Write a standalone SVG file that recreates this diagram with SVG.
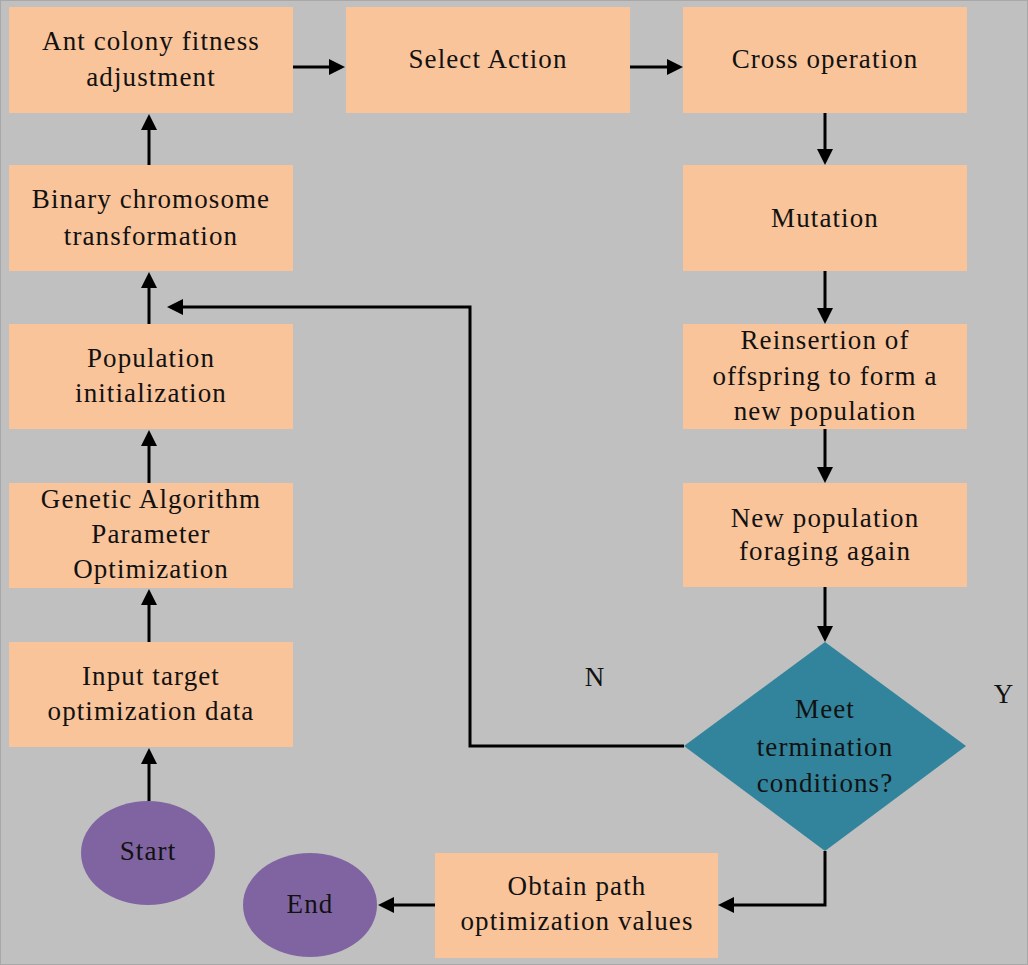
<svg xmlns="http://www.w3.org/2000/svg" width="1028" height="965" viewBox="0 0 1028 965">
<style>
.bx{fill:#f9c49a}
.t{font-family:"Liberation Serif","Times New Roman",serif;font-size:27px;letter-spacing:1.1px;fill:#111;text-anchor:middle}
.c{fill:none;stroke:#000;stroke-width:3}
</style>
<defs>
<marker id="ah" viewBox="0 0 16 16" refX="12" refY="8" markerWidth="16" markerHeight="16" markerUnits="userSpaceOnUse" orient="auto">
<path d="M0,0 L16,8 L0,16 z" fill="#000"/>
</marker>
</defs>
<rect x="0.5" y="0.5" width="1027" height="964" fill="#c0c0c0" stroke="#a8a8a8" stroke-width="1"/>

<g id="ant"><rect class="bx" x="9" y="7" width="284" height="106"/>
<text class="t" x="151" y="50">Ant colony fitness</text><text class="t" x="151" y="86">adjustment</text></g>
<g id="select"><rect class="bx" x="346" y="7" width="284" height="106"/>
<text class="t" x="488" y="68">Select Action</text></g>
<g id="cross"><rect class="bx" x="683" y="7" width="284" height="106"/>
<text class="t" x="825" y="68">Cross operation</text></g>
<g id="binary"><rect class="bx" x="9" y="165" width="284" height="106"/>
<text class="t" x="151" y="208">Binary chromosome</text><text class="t" x="151" y="245">transformation</text></g>
<g id="mutation"><rect class="bx" x="683" y="165" width="284" height="106"/>
<text class="t" x="825" y="227">Mutation</text></g>
<g id="popinit"><rect class="bx" x="9" y="324" width="284" height="105"/>
<text class="t" x="151" y="367">Population</text><text class="t" x="151" y="402">initialization</text></g>
<g id="reinsert"><rect class="bx" x="683" y="324" width="284" height="105"/>
<text class="t" x="825" y="349">Reinsertion of</text><text class="t" x="825" y="385">offspring to form a</text><text class="t" x="825" y="420">new population</text></g>
<g id="genetic"><rect class="bx" x="9" y="483" width="284" height="105"/>
<text class="t" x="151" y="508">Genetic Algorithm</text><text class="t" x="151" y="543">Parameter</text><text class="t" x="151" y="578">Optimization</text></g>
<g id="newpop"><rect class="bx" x="683" y="483" width="284" height="104"/>
<text class="t" x="825" y="527">New population</text><text class="t" x="825" y="560">foraging again</text></g>
<g id="input"><rect class="bx" x="9" y="642" width="284" height="105"/>
<text class="t" x="151" y="685">Input target</text><text class="t" x="151" y="720">optimization data</text></g>
<g id="decision"><polygon points="825,642 966,746 825,851 684,746" fill="#31849b"/>
<text class="t" x="825" y="718">Meet</text><text class="t" x="825" y="756">termination</text><text class="t" x="825" y="792">conditions?</text></g>
<g id="start"><ellipse cx="148" cy="853" rx="67" ry="52" fill="#8064a2"/>
<text class="t" x="148" y="860">Start</text></g>
<g id="obtain"><rect class="bx" x="435" y="853" width="283" height="105"/>
<text class="t" x="577" y="895">Obtain path</text><text class="t" x="577" y="930">optimization values</text></g>
<g id="end"><ellipse cx="310" cy="905" rx="67" ry="52" fill="#8064a2"/>
<text class="t" x="310" y="913">End</text></g>

<g id="connectors">
<path class="c" marker-end="url(#ah)" d="M293,67 H341"/>
<path class="c" marker-end="url(#ah)" d="M630,67 H679"/>
<path class="c" marker-end="url(#ah)" d="M825,113 V161"/>
<path class="c" marker-end="url(#ah)" d="M825,271 V320"/>
<path class="c" marker-end="url(#ah)" d="M825,429 V479"/>
<path class="c" marker-end="url(#ah)" d="M825,587 V638"/>
<path class="c" marker-end="url(#ah)" d="M149,165 V118"/>
<path class="c" marker-end="url(#ah)" d="M149,324 V276"/>
<path class="c" marker-end="url(#ah)" d="M149,483 V434"/>
<path class="c" marker-end="url(#ah)" d="M149,642 V593"/>
<path class="c" marker-end="url(#ah)" d="M149,801 V752"/>
<path class="c" marker-end="url(#ah)" d="M684,746 H470 V307 H171"/>
<path class="c" marker-end="url(#ah)" d="M825,851 V905 H722"/>
<path class="c" marker-end="url(#ah)" d="M435,905 H382"/>
</g>
<g id="labels">
<text class="t" x="595" y="686">N</text>
<text class="t" x="1004" y="703">Y</text>
</g>
</svg>
